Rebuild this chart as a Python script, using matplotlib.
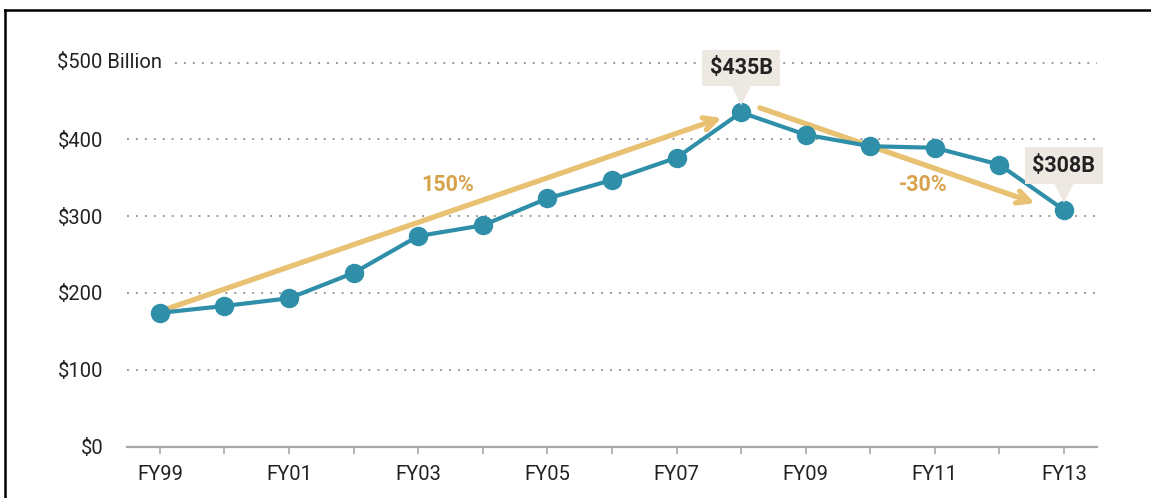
import matplotlib.pyplot as plt
from matplotlib.lines import Line2D

plt.rcParams['font.family'] = ['Roboto', 'DejaVu Sans']

years = ['FY99', 'FY00', 'FY01', 'FY02', 'FY03', 'FY04', 'FY05', 'FY06',
         'FY07', 'FY08', 'FY09', 'FY10', 'FY11', 'FY12', 'FY13']
spend = [174, 183, 193, 226, 274, 288, 323, 347, 376, 435, 406, 391, 389, 367, 308]
y_ticks = [0, 100, 200, 300, 400, 500]
y_labels = ['$0', '$100', '$200', '$300', '$400', '$500 Billion']

teal = '#2f8fa9'
gold = '#e8c172'
gold_txt = '#d7a24c'
beige = '#ede9e2'
grey = '#a8a8a8'

fig = plt.figure(figsize=(11.51, 4.98), dpi=100)
ax = fig.add_axes([0.1103, 0.1034, 0.8427, 0.7865])
x = list(range(len(years)))

ax.set_xlim(-0.51, 14.51)
ax.set_ylim(0, 510)

# dotted grid lines, the top one starts after its label
for v in y_ticks[1:]:
    start = 0.0 if v < 500 else 0.05
    ax.axhline(v, xmin=start, color='#9a9a9a', lw=1.4, ls=(0, (1, 3.6)), zorder=1)

for s in ['top', 'right', 'left']:
    ax.spines[s].set_visible(False)
ax.spines['bottom'].set_color(grey)
ax.spines['bottom'].set_linewidth(1.6)

ax.set_xticks(x)
ax.set_xticklabels([y if i % 2 == 0 else '' for i, y in enumerate(years)])
ax.tick_params(axis='x', length=5, width=1.2, color=grey, labelsize=14.5,
               labelcolor='#222222', pad=8)
ax.set_yticks(y_ticks[:-1])
ax.set_yticklabels(y_labels[:-1])
ax.tick_params(axis='y', length=0, labelsize=14.5, labelcolor='#222222', pad=17)
ax.text(-1.6, 500, y_labels[-1], ha='left', va='center', fontsize=14.5,
        color='#222222')

# growth arrows
ax.annotate('', xy=(8.7, 428), xytext=(0, 176),
            arrowprops=dict(arrowstyle='->,head_length=0.9,head_width=0.45',
                            color=gold, lw=3.8, shrinkA=0, shrinkB=0), zorder=2)
ax.annotate('', xy=(13.55, 317), xytext=(9.29, 441),
            arrowprops=dict(arrowstyle='->,head_length=0.9,head_width=0.45',
                            color=gold, lw=3.8, shrinkA=0, shrinkB=0), zorder=2)
ax.text(4.46, 340, '150%', ha='center', va='center', fontsize=15.5,
        fontweight='bold', color=gold_txt)
ax.text(11.82, 340, '-30%', ha='center', va='center', fontsize=15.5,
        fontweight='bold', color=gold_txt)

ax.plot(x, spend, color=teal, lw=3, marker='o', markersize=13, zorder=4)

# callouts
for i, txt in [(9, '$435B'), (14, '$308B')]:
    ax.annotate(txt, xy=(x[i], spend[i]), xytext=(0, 32),
                textcoords='offset points', ha='center', va='center',
                fontsize=15.5, fontweight='bold', color='#222222',
                bbox=dict(boxstyle='square,pad=0.33', fc=beige, ec='none'),
                arrowprops=dict(arrowstyle='wedge,tail_width=0.9', fc=beige,
                                ec='none', shrinkA=0, shrinkB=5), zorder=5)

# frame lines
fig.add_artist(Line2D([0.0044, 0.0044], [0, 0.98], transform=fig.transFigure,
                      color='black', lw=1.8))
fig.add_artist(Line2D([0.0044, 1], [0.98, 0.98], transform=fig.transFigure,
                      color='black', lw=1.8))

fig.savefig('out.png', dpi=100)
